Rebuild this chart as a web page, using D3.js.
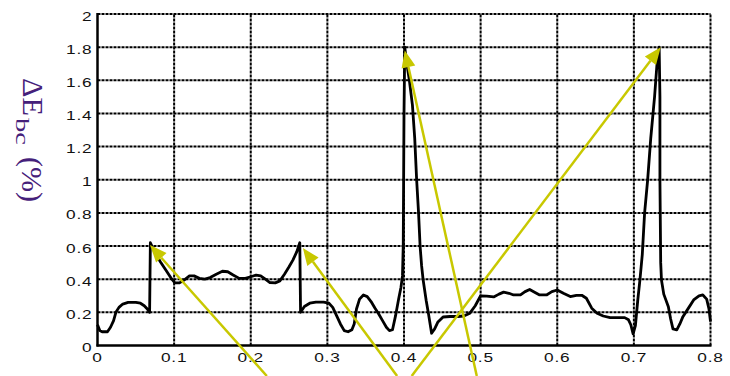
<!DOCTYPE html>
<html>
<head>
<meta charset="utf-8">
<script src="https://cdn.jsdelivr.net/npm/d3@7"></script>
<style>
  body { margin: 0; background: #ffffff; }
  svg { display: block; }
</style>
</head>
<body>
<svg id="chart"></svg>
<script>
// distance values along x, energy deviation along y
const xValues = [
  0, 0.003, 0.006, 0.013, 0.017, 0.021, 0.024, 0.028, 0.033, 0.04, 0.05, 0.056, 0.061, 0.065, 0.068,
  0.069, 0.075, 0.082, 0.09, 0.097, 0.101, 0.107, 0.113, 0.12, 0.126, 0.133, 0.14, 0.147, 0.155, 0.163,
  0.17, 0.177, 0.185, 0.193, 0.2, 0.207, 0.213, 0.219, 0.225, 0.232, 0.238, 0.244, 0.25, 0.255, 0.26,
  0.264, 0.265, 0.27, 0.277, 0.285, 0.295, 0.302, 0.307, 0.312, 0.317, 0.322, 0.327, 0.332, 0.335, 0.338,
  0.342, 0.347, 0.352, 0.357, 0.362, 0.367, 0.372, 0.377, 0.381, 0.385, 0.389, 0.393, 0.396, 0.398, 0.399,
  0.4, 0.401, 0.403, 0.407, 0.411, 0.414, 0.4165, 0.419, 0.421, 0.423, 0.425, 0.429, 0.432, 0.436, 0.44,
  0.444, 0.451, 0.46, 0.47, 0.478, 0.486, 0.493, 0.5, 0.508, 0.517, 0.524, 0.53, 0.537, 0.543, 0.552,
  0.558, 0.564, 0.571, 0.577, 0.586, 0.593, 0.6, 0.608, 0.617, 0.625, 0.632, 0.638, 0.645, 0.652, 0.66,
  0.669, 0.68, 0.688, 0.693, 0.696, 0.699, 0.702, 0.705, 0.708, 0.711, 0.714, 0.718, 0.722, 0.727, 0.731,
  0.733, 0.734, 0.734, 0.735, 0.736, 0.739, 0.745, 0.748, 0.751, 0.756, 0.76, 0.764, 0.771, 0.778, 0.785,
  0.79, 0.795, 0.798, 0.8
];
const yValues = [
  0.125, 0.09, 0.083, 0.083, 0.11, 0.15, 0.2, 0.23, 0.25, 0.26, 0.26, 0.255, 0.24, 0.22, 0.2,
  0.62, 0.56, 0.505, 0.45, 0.40, 0.378, 0.378, 0.395, 0.42, 0.42, 0.405, 0.40, 0.41, 0.43, 0.448,
  0.445, 0.425, 0.405, 0.405, 0.415, 0.425, 0.42, 0.40, 0.38, 0.378, 0.39, 0.43, 0.475, 0.515, 0.565,
  0.62, 0.2, 0.235, 0.255, 0.262, 0.262, 0.255, 0.23, 0.18, 0.13, 0.09, 0.083, 0.095, 0.13, 0.22,
  0.28, 0.305, 0.295, 0.265, 0.226, 0.19, 0.15, 0.11, 0.09, 0.095, 0.18, 0.28, 0.35, 0.42, 0.6,
  1.4, 1.8, 1.72, 1.6, 1.45, 1.25, 1.0, 0.8, 0.6, 0.48, 0.395, 0.27, 0.19, 0.074, 0.1,
  0.14, 0.172, 0.175, 0.175, 0.178, 0.195, 0.24, 0.3, 0.298, 0.293, 0.31, 0.322, 0.315, 0.305, 0.305,
  0.325, 0.338, 0.32, 0.305, 0.305, 0.325, 0.335, 0.315, 0.295, 0.303, 0.303, 0.285, 0.225, 0.195, 0.178,
  0.168, 0.168, 0.168, 0.155, 0.125, 0.07, 0.12, 0.27, 0.4, 0.55, 0.8, 1.0, 1.25, 1.5, 1.75,
  1.8, 1.5, 1.0, 0.5, 0.395, 0.31, 0.234, 0.16, 0.1, 0.094, 0.13, 0.174, 0.224, 0.275, 0.3,
  0.305, 0.28, 0.22, 0.144
];
const xTicks = [0, 0.1, 0.2, 0.3, 0.4, 0.5, 0.6, 0.7, 0.8];
const yTicks = [0, 0.2, 0.4, 0.6, 0.8, 1, 1.2, 1.4, 1.6, 1.8, 2];
// annotation arrows: tail (below the axis) to tip, in data units
const arrowTailX = [0.221, 0.391, 0.410, 0.495];
const arrowTailY = [-0.184, -0.184, -0.184, -0.184];
const arrowTipX = [0.0685, 0.268, 0.735, 0.401];
const arrowTipY = [0.606, 0.588, 1.80, 1.78];

const width = 730, height = 376;
const margin = { top: 14, right: 19.5, bottom: 30.5, left: 97.5 };

const svg = d3.select("#chart").attr("width", width).attr("height", height);

const x = d3.scaleLinear().domain([0, 0.8]).range([margin.left, width - margin.right]);
const y = d3.scaleLinear().domain([0, 2]).range([height - margin.bottom, margin.top]);

// dotted grid
const grid = svg.append("g")
  .attr("stroke", "#000")
  .attr("stroke-width", 2)
  .attr("stroke-dasharray", "3,1");
grid.selectAll(".gx").data(xTicks.slice(1)).join("line")
  .attr("x1", d => x(d)).attr("x2", d => x(d))
  .attr("y1", y(0)).attr("y2", y(2));
grid.selectAll(".gy").data(yTicks.slice(1)).join("line")
  .attr("x1", x(0)).attr("x2", x(0.8))
  .attr("y1", d => y(d)).attr("y2", d => y(d));

// axes frame
svg.append("line").attr("x1", x(0)).attr("x2", x(0)).attr("y1", y(0) + 1).attr("y2", y(2) - 1)
  .attr("stroke", "#000").attr("stroke-width", 2.5);
svg.append("line").attr("x1", x(0) - 1).attr("x2", x(0.8) + 1).attr("y1", y(0)).attr("y2", y(0))
  .attr("stroke", "#000").attr("stroke-width", 2.5);

// tick labels (the source font is drawn wide)
const labelFont = "'Liberation Sans', Arial, sans-serif";
svg.append("g").selectAll("text").data(yTicks).join("text")
  .attr("transform", d => "translate(" + (x(0) - 5) + "," + (y(d) + 6.5) + ") scale(1.38,1)")
  .attr("text-anchor", "end")
  .style("font-family", labelFont)
  .style("font-size", "12.5px")
  .style("letter-spacing", "0.6px")
  .attr("fill", "#111")
  .text(d => String(d));
svg.append("g").selectAll("text").data(xTicks).join("text")
  .attr("transform", d => "translate(" + x(d) + "," + (y(0) + 16.5) + ") scale(1.38,1)")
  .attr("text-anchor", "middle")
  .style("font-family", labelFont)
  .style("font-size", "12.5px")
  .style("letter-spacing", "0.6px")
  .attr("fill", "#111")
  .text(d => String(d));

// y axis title, read top to bottom
const titleFont = "'Liberation Serif', 'Times New Roman', serif";
const titleColor = "#45207a";
function titlePart(txt, bx, sy, size, len) {
  svg.append("text")
    .attr("transform", "translate(" + bx + "," + sy + ") rotate(90)")
    .attr("textLength", len)
    .attr("lengthAdjust", "spacingAndGlyphs")
    .style("font-family", titleFont)
    .style("font-size", size + "px")
    .attr("fill", titleColor)
    .text(txt);
}
titlePart("\u0394E", 23, 78, 30, 38);
titlePart("bc", 16, 118, 18, 27);
titlePart("(%)", 22, 157, 30, 45);

// the curve
const pts = xValues.map((v, i) => [v, yValues[i]]);
const line = d3.line().x(d => x(d[0])).y(d => y(d[1]));
svg.append("path")
  .datum(pts)
  .attr("d", line)
  .attr("fill", "none")
  .attr("stroke", "#000")
  .attr("stroke-width", 2.8)
  .attr("stroke-linejoin", "round");

// yellow arrows
const arrowColor = "#c8c800";
arrowTipX.forEach(function(tx, i) {
  const x1 = x(arrowTailX[i]), y1 = y(arrowTailY[i]);
  const x2 = x(tx), y2 = y(arrowTipY[i]);
  const ang = Math.atan2(y2 - y1, x2 - x1);
  const headLen = 17, headW = 7;
  const bx = x2 - headLen * Math.cos(ang), by = y2 - headLen * Math.sin(ang);
  svg.append("line")
    .attr("x1", x1).attr("y1", y1).attr("x2", bx).attr("y2", by)
    .attr("stroke", arrowColor).attr("stroke-width", 2.5);
  const px = -Math.sin(ang) * headW, py = Math.cos(ang) * headW;
  svg.append("path")
    .attr("d", "M" + x2 + "," + y2 + "L" + (bx + px) + "," + (by + py) + "L" + (bx - px) + "," + (by - py) + "Z")
    .attr("fill", arrowColor);
});
</script>
</body>
</html>
